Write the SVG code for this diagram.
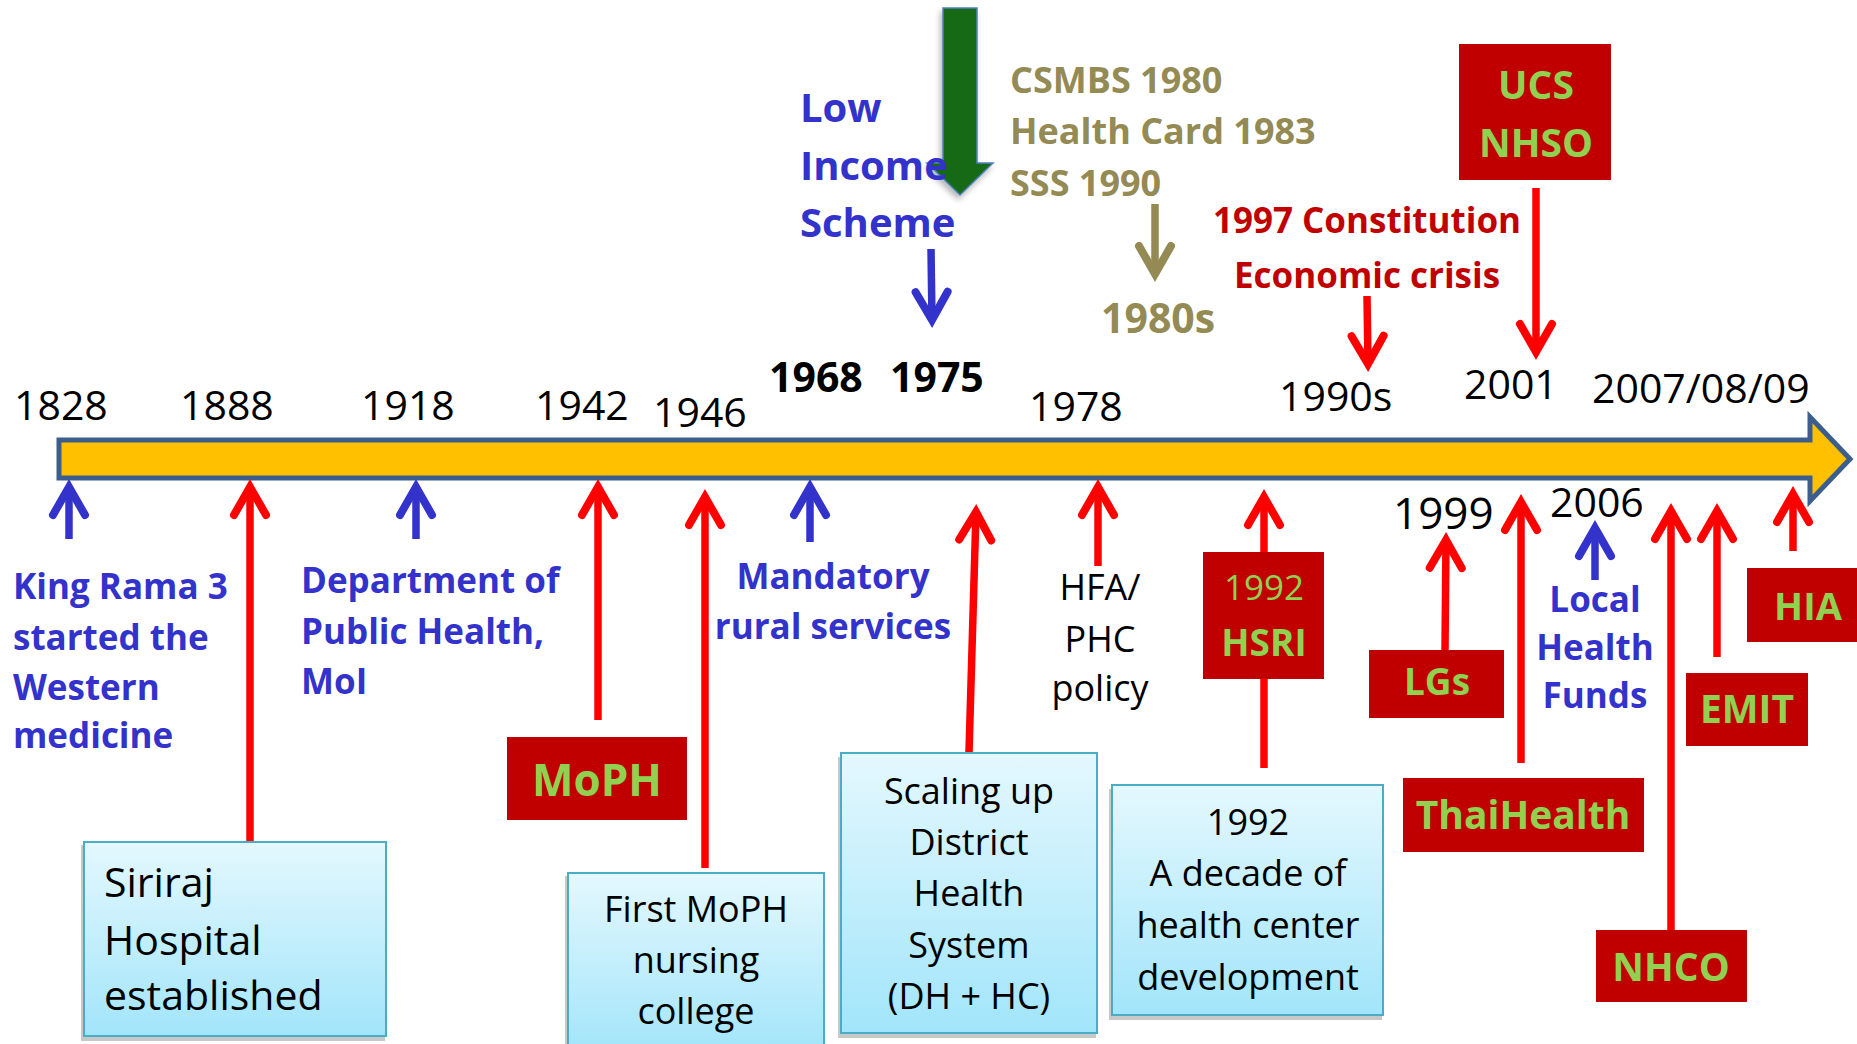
<svg xmlns="http://www.w3.org/2000/svg" width="1857" height="1044" viewBox="0 0 1857 1044">
<style>
text{font-family:"Open Sans","Noto Sans",sans-serif}
.yr{font-size:41px;fill:#000}
.yb{font-size:41px;fill:#000;font-weight:bold}
.bl{font-size:35px;fill:#3333CC;font-weight:bold}
.ol{font-size:36px;fill:#948A54;font-weight:bold}
.dr{font-size:35px;fill:#C00000;font-weight:bold}
.gr{fill:#92D050;font-weight:bold;text-anchor:middle}
.rb{fill:#C00000}
.lb{fill:url(#lbg);stroke:#4BACC6;stroke-width:2}
.sh{fill:#C8C8C8}
.bt{font-size:36px;fill:#000;text-anchor:middle}
.mid{text-anchor:middle}
.r{stroke:#FF0000;stroke-width:7.5;fill:none;marker-end:url(#mr)}
.b{stroke:#3333CC;stroke-width:7.5;fill:none;marker-end:url(#mb)}
.o{stroke:#948A54;stroke-width:7.5;fill:none;marker-end:url(#mo)}
</style>
<defs>
<linearGradient id="lbg" x1="0" y1="0" x2="0" y2="1">
<stop offset="0" stop-color="#E4F8FE"/>
<stop offset="1" stop-color="#A2E5FA"/>
</linearGradient>
<marker id="mr" markerUnits="userSpaceOnUse" viewBox="-40 -30 60 60" markerWidth="60" markerHeight="60" refX="0" refY="0" orient="auto">
<path d="M-28,-16 L0,0 L-28,16" fill="none" stroke="#FF0000" stroke-width="8" stroke-linecap="round"/>
</marker>
<marker id="mb" markerUnits="userSpaceOnUse" viewBox="-40 -30 60 60" markerWidth="60" markerHeight="60" refX="0" refY="0" orient="auto">
<path d="M-28,-16 L0,0 L-28,16" fill="none" stroke="#3333CC" stroke-width="8" stroke-linecap="round"/>
</marker>
<marker id="mo" markerUnits="userSpaceOnUse" viewBox="-40 -30 60 60" markerWidth="60" markerHeight="60" refX="0" refY="0" orient="auto">
<path d="M-28,-16 L0,0 L-28,16" fill="none" stroke="#948A54" stroke-width="8" stroke-linecap="round"/>
</marker>
<filter id="ds" x="-30%" y="-10%" width="160%" height="130%">
<feGaussianBlur in="SourceAlpha" stdDeviation="3"/>
<feOffset dx="-2" dy="4"/>
<feComponentTransfer><feFuncA type="linear" slope="0.3"/></feComponentTransfer>
<feMerge><feMergeNode/><feMergeNode in="SourceGraphic"/></feMerge>
</filter>
</defs>
<rect width="1857" height="1044" fill="#FFFFFF"/>

<g id="timeline">
<path d="M59,440 H1810 V417 L1850,459 L1810,501 V478 H59 Z" fill="#FFC000" stroke="#3B5E8C" stroke-width="5" stroke-linejoin="miter"/>
</g>

<g id="years">
<text class="yr" x="14" y="420">1828</text>
<text class="yr" x="180" y="420">1888</text>
<text class="yr" x="361" y="420">1918</text>
<text class="yr" x="535" y="420">1942</text>
<text class="yr" x="653" y="427">1946</text>
<text class="yb" x="769" y="392">1968</text>
<text class="yb" x="890" y="392">1975</text>
<text class="yr" x="1029" y="421">1978</text>
<text class="yr" x="1279" y="411">1990s</text>
<text class="yr" x="1464" y="399">2001</text>
<text class="yr" x="1592" y="403">2007/08/09</text>
<text class="yr" x="1393" y="529" style="font-size:44px">1999</text>
<text class="yr" x="1550" y="517">2006</text>
</g>

<g id="connectors">
<line class="b" x1="69" y1="539" x2="69" y2="487"/>
<line class="r" x1="250" y1="842" x2="250" y2="487"/>
<line class="b" x1="416" y1="539" x2="416" y2="487"/>
<line class="r" x1="598" y1="720" x2="598" y2="487"/>
<line class="r" x1="705" y1="868" x2="705" y2="497"/>
<line class="b" x1="810" y1="542" x2="810" y2="487"/>
<line class="r" x1="969" y1="752" x2="976" y2="512"/>
<line class="r" x1="1098" y1="566" x2="1098" y2="487"/>
<line class="r" x1="1264" y1="552" x2="1264" y2="497"/>
<line x1="1264" y1="679" x2="1264" y2="768" stroke="#FF0000" stroke-width="7.5"/>
<line class="r" x1="1445" y1="650" x2="1446" y2="540"/>
<line class="r" x1="1521" y1="763" x2="1521" y2="502"/>
<line class="b" x1="1595" y1="580" x2="1595" y2="528"/>
<line class="r" x1="1671" y1="930" x2="1671" y2="511"/>
<line class="r" x1="1717" y1="657" x2="1717" y2="511"/>
<line class="r" x1="1793" y1="551" x2="1793" y2="494"/>
<line class="b" x1="931" y1="249" x2="932" y2="320"/>
<line class="o" x1="1155" y1="204" x2="1155" y2="274"/>
<line class="r" x1="1367" y1="296" x2="1368" y2="364"/>
<line class="r" x1="1536" y1="188" x2="1536" y2="352"/>
</g>

<g id="green-arrow">
<path d="M943,8 H977 V163 H993 L960,195 L927,163 H943 Z" fill="#136B17" stroke="#4F81BD" stroke-width="1.5" filter="url(#ds)"/>
</g>

<g id="low-income">
<text class="bl" style="font-size:40px" x="800" y="122">Low</text>
<text class="bl" style="font-size:40px" x="800" y="180">Income</text>
<text class="bl" style="font-size:40px" x="800" y="237">Scheme</text>
</g>

<g id="schemes">
<text class="ol" x="1010" y="93">CSMBS 1980</text>
<text class="ol" x="1010" y="144">Health Card 1983</text>
<text class="ol" x="1010" y="196">SSS 1990</text>
<text class="ol" style="font-size:41px" x="1101" y="333">1980s</text>
</g>

<g id="constitution">
<text class="dr mid" x="1367" y="233">1997 Constitution</text>
<text class="dr mid" x="1367" y="288">Economic crisis</text>
</g>

<g id="ucs">
<rect class="rb" x="1459" y="44" width="152" height="136"/>
<text class="gr" style="font-size:39px" x="1536" y="99">UCS</text>
<text class="gr" style="font-size:39px" x="1536" y="157">NHSO</text>
</g>

<g id="king-rama">
<text class="bl" x="13" y="599">King Rama 3</text>
<text class="bl" x="13" y="650">started the</text>
<text class="bl" x="13" y="700">Western</text>
<text class="bl" x="13" y="748">medicine</text>
</g>

<g id="dph">
<text class="bl" x="301" y="593">Department of</text>
<text class="bl" x="301" y="644">Public Health,</text>
<text class="bl" x="301" y="694">MoI</text>
</g>

<g id="mandatory">
<text class="bl mid" x="833" y="589">Mandatory</text>
<text class="bl mid" x="833" y="639">rural services</text>
</g>

<g id="hfa">
<text class="bt" x="1100" y="600">HFA/</text>
<text class="bt" x="1100" y="652">PHC</text>
<text class="bt" x="1100" y="701">policy</text>
</g>

<g id="local-health">
<text class="bl mid" x="1595" y="612">Local</text>
<text class="bl mid" x="1595" y="660">Health</text>
<text class="bl mid" x="1595" y="708">Funds</text>
</g>

<g id="moph">
<rect class="rb" x="507" y="737" width="180" height="83"/>
<text class="gr" style="font-size:44px" x="597" y="796">MoPH</text>
</g>

<g id="hsri">
<rect class="rb" x="1203" y="552" width="121" height="127"/>
<text class="gr" style="font-size:35px;font-weight:normal" x="1264" y="600">1992</text>
<text class="gr" style="font-size:37px" x="1264" y="656">HSRI</text>
</g>

<g id="lgs">
<rect class="rb" x="1369" y="650" width="135" height="68"/>
<text class="gr" style="font-size:37px" x="1437" y="695">LGs</text>
</g>

<g id="thaihealth">
<rect class="rb" x="1403" y="778" width="241" height="74"/>
<text class="gr" style="font-size:39px" x="1523" y="829">ThaiHealth</text>
</g>

<g id="emit">
<rect class="rb" x="1686" y="673" width="122" height="73"/>
<text class="gr" style="font-size:39px" x="1747" y="723">EMIT</text>
</g>

<g id="hia">
<rect class="rb" x="1747" y="568" width="110" height="74"/>
<text class="gr" style="font-size:38px" x="1808" y="620">HIA</text>
</g>

<g id="nhco">
<rect class="rb" x="1596" y="930" width="151" height="72"/>
<text class="gr" style="font-size:39px" x="1671" y="981">NHCO</text>
</g>

<g id="siriraj">
<rect class="sh" x="81" y="845" width="304" height="196"/>
<rect class="lb" x="84" y="842" width="302" height="194"/>
<text class="yr" x="104" y="897">Siriraj</text>
<text class="yr" x="104" y="955">Hospital</text>
<text class="yr" x="104" y="1010">established</text>
</g>

<g id="nursing">
<rect class="sh" x="565" y="876" width="258" height="180"/>
<rect class="lb" x="568" y="873" width="256" height="180"/>
<text class="bt" x="696" y="922">First MoPH</text>
<text class="bt" x="696" y="973">nursing</text>
<text class="bt" x="696" y="1024">college</text>
</g>

<g id="district">
<rect class="sh" x="838" y="757" width="258" height="281"/>
<rect class="lb" x="841" y="753" width="256" height="280"/>
<text class="bt" x="969" y="804">Scaling up</text>
<text class="bt" x="969" y="855">District</text>
<text class="bt" x="969" y="906">Health</text>
<text class="bt" x="969" y="958">System</text>
<text class="bt" x="969" y="1009">(DH + HC)</text>
</g>

<g id="health-center">
<rect class="sh" x="1109" y="789" width="273" height="231"/>
<rect class="lb" x="1112" y="785" width="271" height="230"/>
<text class="bt" x="1248" y="835">1992</text>
<text class="bt" x="1248" y="886">A decade of</text>
<text class="bt" x="1248" y="938">health center</text>
<text class="bt" x="1248" y="990">development</text>
</g>
</svg>
